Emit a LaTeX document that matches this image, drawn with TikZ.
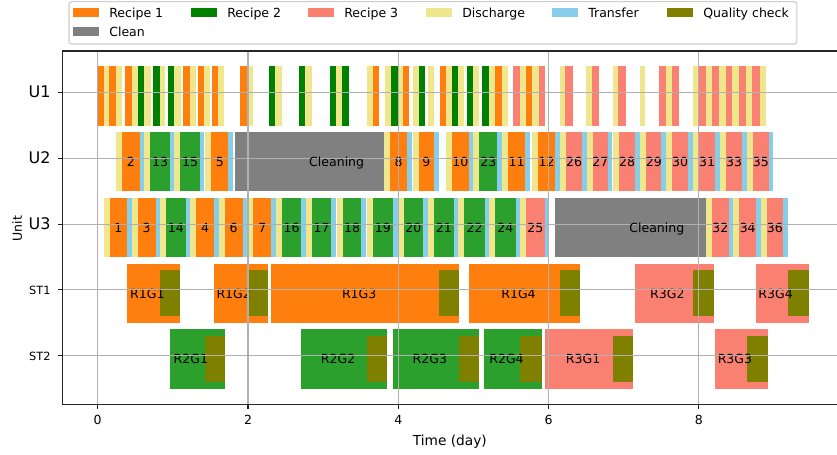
\documentclass[tikz,border=0pt]{standalone}
\usepackage{fontspec}
\setmainfont{DejaVu Sans}
\definecolor{recipeone}{HTML}{FF7F0E}
\definecolor{recipetwo}{HTML}{2CA02C}
\definecolor{recipetwodark}{HTML}{008000}
\definecolor{recipethree}{HTML}{FA8072}
\definecolor{discharge}{HTML}{F0E68C}
\definecolor{transfer}{HTML}{87CEEB}
\definecolor{qcheck}{HTML}{808000}
\definecolor{clean}{HTML}{808080}
\definecolor{gridgray}{HTML}{B0B0B0}
\pgfdeclarelayer{bars}
\pgfsetlayers{bars,main}

\begin{document}
\begin{tikzpicture}[x=56.36pt, y=49.31pt, font=\fontsize{9.4}{11.3}\selectfont,
		lbl/.style = {inner sep=0pt, text height=0.73em, text depth=0pt},
		spine/.style = {draw=black!85, line width=0.8pt},
		gridline/.style = {draw=gridgray, line width=0.8pt},
		legendframe/.style = {draw=black!20, fill=white, rounded corners=2pt, line width=0.8pt}]
	\useasboundingbox (-1.300,-1.510) rectangle (9.838,5.410);

	\begin{pgfonlayer}{bars}
		\foreach \s/\e/\col in {0.00/0.08/recipeone, 0.08/0.15/discharge, 0.15/0.24/recipeone, 0.24/0.32/discharge,
				0.37/0.45/recipeone, 0.45/0.54/discharge, 0.54/0.62/recipetwodark, 0.62/0.71/discharge,
				0.74/0.83/recipetwodark, 0.83/0.90/discharge, 0.94/1.02/recipetwodark, 1.02/1.11/discharge,
				1.14/1.23/recipeone, 1.23/1.31/discharge, 1.34/1.42/recipeone, 1.42/1.50/discharge,
				1.52/1.60/recipeone, 1.60/1.68/discharge, 1.90/1.99/recipeone, 1.99/2.07/discharge,
				2.28/2.36/recipetwodark, 2.36/2.45/discharge, 2.68/2.76/recipetwodark, 2.76/2.85/discharge,
				3.09/3.17/recipetwodark, 3.17/3.25/discharge, 3.25/3.34/recipetwodark, 3.59/3.66/discharge,
				3.66/3.74/recipeone, 3.82/3.90/discharge, 3.90/3.99/recipetwodark, 3.99/4.06/discharge,
				4.06/4.14/recipeone, 4.19/4.27/discharge, 4.27/4.35/recipetwodark, 4.39/4.48/discharge,
				4.56/4.64/recipeone, 4.64/4.72/discharge, 4.72/4.80/recipetwodark, 4.80/4.88/discharge,
				4.91/5.00/recipetwodark, 5.00/5.07/discharge, 5.12/5.21/recipetwodark, 5.21/5.29/discharge,
				5.29/5.38/recipeone, 5.38/5.46/discharge, 5.53/5.62/recipethree, 5.62/5.70/discharge,
				5.70/5.78/recipeone, 5.78/5.87/discharge, 5.87/5.95/recipethree, 6.15/6.22/discharge,
				6.22/6.32/recipethree, 6.50/6.58/discharge, 6.58/6.67/recipethree, 6.86/6.93/discharge,
				6.93/7.03/recipethree, 7.21/7.28/discharge, 7.47/7.56/recipethree, 7.56/7.64/discharge,
				7.64/7.74/recipethree, 7.92/7.99/discharge, 7.99/8.09/recipethree, 8.09/8.17/discharge,
				8.18/8.27/recipethree, 8.27/8.36/discharge, 8.36/8.44/recipethree, 8.44/8.53/discharge,
				8.53/8.63/recipethree, 8.63/8.71/discharge, 8.71/8.81/recipethree, 8.81/8.89/discharge}
			\fill[fill=\col] (\s,3.5) rectangle (\e,4.4);

		\fill[clean] (1.83,2.5) rectangle (3.81,3.4);
		\fill[clean] (6.09,1.5) rectangle (8.09,2.4);
	\end{pgfonlayer}

	\foreach \s/\e/\col/\lab in {0.24/0.56/recipeone/2, 0.62/0.96/recipetwo/13, 1.02/1.36/recipetwo/15,
			1.43/1.74/recipeone/5, 3.81/4.12/recipeone/8, 4.19/4.48/recipeone/9, 4.63/4.94/recipeone/10,
			5.00/5.32/recipetwo/23, 5.38/5.69/recipeone/11, 5.78/6.09/recipeone/12, 6.15/6.45/recipethree/26,
			6.51/6.79/recipethree/27, 6.86/7.15/recipethree/28, 7.22/7.50/recipethree/29, 7.56/7.86/recipethree/30,
			7.92/8.22/recipethree/31, 8.28/8.58/recipethree/33, 8.64/8.93/recipethree/35}
	{
		\begin{pgfonlayer}{bars}
			\fill[discharge] (\s,2.5) rectangle (\s+0.08,3.4);
			\fill[fill=\col] (\s+0.08,2.5) rectangle (\e,3.4);
			\fill[transfer] (\e,2.5) rectangle (\e+0.06,3.4);
		\end{pgfonlayer}
		\node[lbl] (b\lab) at ({(\s+0.08+\e)/2},2.95) {\lab};
	}

	\foreach \s/\e/\col/\lab in {0.08/0.39/recipeone/1, 0.45/0.77/recipeone/3, 0.83/1.17/recipetwo/14,
			1.23/1.55/recipeone/4, 1.61/1.93/recipeone/6, 1.99/2.31/recipeone/7, 2.37/2.71/recipetwo/16,
			2.77/3.11/recipetwo/17, 3.18/3.51/recipetwo/18, 3.58/3.93/recipetwo/19, 3.99/4.33/recipetwo/20,
			4.39/4.74/recipetwo/21, 4.80/5.15/recipetwo/22, 5.21/5.56/recipetwo/24, 5.62/5.95/recipethree/25,
			8.09/8.40/recipethree/32, 8.46/8.76/recipethree/34, 8.82/9.12/recipethree/36}
	{
		\begin{pgfonlayer}{bars}
			\fill[discharge] (\s,1.5) rectangle (\s+0.08,2.4);
			\fill[fill=\col] (\s+0.08,1.5) rectangle (\e,2.4);
			\fill[transfer] (\e,1.5) rectangle (\e+0.06,2.4);
		\end{pgfonlayer}
		\node[lbl] (b\lab) at ({(\s+0.08+\e)/2},1.95) {\lab};
	}

	\foreach \s/\q/\e/\col/\lab/\lx in {0.39/0.83/1.10/recipeone/R1G1/0.66, 1.55/1.99/2.27/recipeone/R1G2/1.81,
			2.30/4.54/4.81/recipeone/R1G3/3.48, 4.94/6.15/6.42/recipeone/R1G4/5.60,
			7.15/7.92/8.20/recipethree/R3G2/7.58, 8.76/9.19/9.46/recipethree/R3G4/9.02}
	{
		\begin{pgfonlayer}{bars}
			\fill[fill=\col] (\s,0.5) rectangle (\e,1.4);
			\fill[qcheck] (\q,0.6) rectangle (\e,1.3);
		\end{pgfonlayer}
		\node[lbl] (\lab) at (\lx,0.95) {\lab};
	}

	\foreach \s/\q/\e/\col/\lab/\lx in {0.96/1.43/1.69/recipetwo/R2G1/1.24, 2.71/3.59/3.85/recipetwo/R2G2/3.20,
			3.93/4.81/5.07/recipetwo/R2G3/4.42, 5.14/5.62/5.91/recipetwo/R2G4/5.44,
			5.95/6.86/7.12/recipethree/R3G1/6.46, 8.21/8.64/8.92/recipethree/R3G3/8.48}
	{
		\begin{pgfonlayer}{bars}
			\fill[fill=\col] (\s,-0.5) rectangle (\e,0.4);
			\fill[qcheck] (\q,-0.4) rectangle (\e,0.3);
		\end{pgfonlayer}
		\node[lbl] (\lab) at (\lx,-0.05) {\lab};
	}

	\foreach \t in {0,2,...,8}
		\draw[gridline] (\t,-0.739) -- (\t,4.634);
	\foreach \r in {0,...,4}
		\draw[gridline] (-0.467,\r) -- (9.838,\r);

	\node[lbl] (clean2) at (3.18,2.95) {Cleaning};
	\node[lbl] (clean3) at (7.44,1.95) {Cleaning};

	\draw[spine] (9.838,4.634) -- (-0.467,4.634) -- (-0.467,-0.739) -- (9.838,-0.739);
	\foreach \t in {0,2,...,8}
	{
		\draw[spine] (\t,-0.739) -- (\t,-0.807);
		\node[lbl] (xt\t) at (\t,-0.978) {\t};
	}
	\foreach \r/\n/\fs in {4/U1/12, 3/U2/12, 2/U3/12, 1/ST1/8.5, 0/ST2/8.5}
	{
		\draw[spine] (-0.467,\r) -- (-0.527,\r);
		\node[lbl, anchor=east, font={\fontsize{\fs}{14}\selectfont}] (yt\n) at (-0.625,\r) {\n};
	}
	\node[lbl, font=\fontsize{10.3}{12}\selectfont] (xlabel) at (4.686,-1.293) {Time (day)};
	\node[lbl, rotate=90] (ylabel) at (-1.074,1.93) {Unit};

	\draw[legendframe] (-0.382,4.741) rectangle (9.305,5.384);
	\foreach \x/\y/\col/\txt [count=\i] in {-0.329/5.223/recipeone/Recipe 1, 1.241/5.223/recipetwodark/Recipe 2,
			2.798/5.223/recipethree/Recipe 3, 4.368/5.223/discharge/Discharge, 6.045/5.223/transfer/Transfer,
			7.576/5.223/qcheck/Quality check, -0.329/4.928/clean/Clean}
	{
		\fill[fill=\col] (\x,\y-0.068) rectangle (\x+0.345,\y+0.068);
		\node[lbl, anchor=west] (key\i) at (\x+0.48,\y) {\txt};
	}
\end{tikzpicture}
\end{document}
